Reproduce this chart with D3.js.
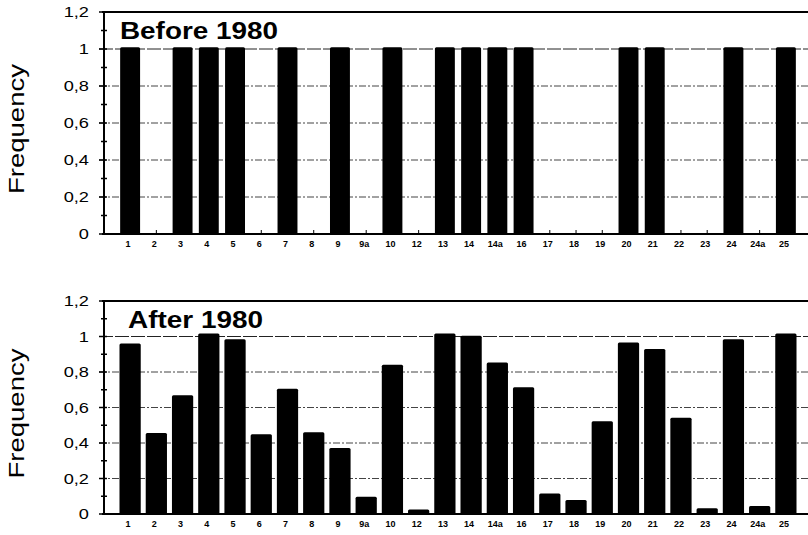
<!DOCTYPE html>
<html>
<head>
<meta charset="utf-8">
<script src="https://cdn.jsdelivr.net/npm/d3@7"></script>
<style>
  body { margin: 0; background: #fff; }
  svg { display: block; font-family: "Liberation Sans", Arial, sans-serif; }
</style>
</head>
<body>
<svg id="chart" width="808" height="535"></svg>
<script>
var categories = ["1","2","3","4","5","6","7","8","9","9a","10","12","13","14","14a","16","17","18","19","20","21","22","23","24","24a","25"];
var before1980 = [1.01,0,1.01,1.01,1.01,0,1.01,0,1.01,0,1.01,0,1.01,1.01,1.01,1.01,0,0,0,1.01,1.01,0,0,1.01,0,1.01];
var after1980 = [0.96,0.456,0.669,1.017,0.985,0.449,0.705,0.46,0.372,0.097,0.841,0.026,1.017,1.004,0.854,0.714,0.116,0.079,0.523,0.966,0.929,0.542,0.032,0.985,0.045,1.017];
var yTicks = [0, 0.2, 0.4, 0.6, 0.8, 1, 1.2];
var yMinor = [0.1, 0.3, 0.5, 0.7, 0.9, 1.1];

var svg = d3.select("#chart");
var x0 = 104;

var panels = [
    {title: "Before 1980", values: before1980, top: 12, bottom: 234, titleX: 120, titleY: 39, titleLen: 158, pad: 0.24},
    {title: "After 1980", values: after1980, top: 301, bottom: 514, titleX: 128, titleY: 328, titleLen: 135, pad: 0.19}
];

// category slots, bar centred in each slot
var x = d3.scaleBand().domain(categories).range([117, 799]);

var fmt = function(d){ return String(d).replace(".", ","); };

panels.forEach(function(p){
    x.paddingInner(p.pad).paddingOuter(p.pad / 2);
    var y = d3.scaleLinear().domain([0, 1.2]).range([p.bottom, p.top]);
    var g = svg.append("g");

    // gridlines
    g.selectAll(".grid").data(yTicks.filter(function(d){ return d > 0 && d < 1.2; }))
        .enter().append("line")
        .attr("x1", x0 - 5).attr("x2", 808)
        .attr("y1", function(d){ return y(d); }).attr("y2", function(d){ return y(d); })
        .attr("stroke", function(d){ return d == 1 ? "#222" : "#444"; })
        .attr("stroke-width", 1)
        .attr("stroke-dasharray", function(d){ return d == 1 ? "14,2" : "7,2,2,2"; });

    // bars
    g.selectAll(".bar").data(p.values)
        .enter().append("rect")
        .attr("x", function(d, i){ return x(categories[i]); })
        .attr("width", x.bandwidth())
        .attr("y", function(d){ return y(d); })
        .attr("height", function(d){ return p.bottom - y(d); })
        .attr("rx", 1.5)
        .attr("fill", "#000");

    // x ticks (inside)
    g.selectAll(".xt").data(categories)
        .enter().append("line")
        .attr("x1", function(d){ return x(d) + x.bandwidth()/2; })
        .attr("x2", function(d){ return x(d) + x.bandwidth()/2; })
        .attr("y1", p.bottom).attr("y2", p.bottom - 4)
        .attr("stroke", "#000").attr("stroke-width", 1);

    // x labels
    g.selectAll(".xl").data(categories)
        .enter().append("text")
        .attr("x", function(d){ return x(d) + x.bandwidth()/2 - 2; })
        .attr("y", p.bottom + 13)
        .attr("text-anchor", "middle")
        .style("font-size", "9px")
        .style("font-weight", "bold")
        .text(function(d){ return d; });

    // top frame and axes
    g.append("line").attr("x1", x0 - 2).attr("x2", 808)
        .attr("y1", p.top).attr("y2", p.top)
        .attr("stroke", "#000").attr("stroke-width", 2);
    g.append("line").attr("x1", x0 - 2).attr("x2", 808)
        .attr("y1", p.bottom).attr("y2", p.bottom)
        .attr("stroke", "#000").attr("stroke-width", 2);
    g.append("line").attr("x1", x0).attr("x2", x0)
        .attr("y1", p.top).attr("y2", p.bottom)
        .attr("stroke", "#000").attr("stroke-width", 2);

    // y ticks
    g.selectAll(".ymaj").data(yTicks)
        .enter().append("line")
        .attr("x1", x0 - 5).attr("x2", x0 + 3)
        .attr("y1", function(d){ return y(d); }).attr("y2", function(d){ return y(d); })
        .attr("stroke", "#000").attr("stroke-width", 1.5);
    g.selectAll(".ymin").data(yMinor)
        .enter().append("line")
        .attr("x1", x0 - 3).attr("x2", x0 + 3)
        .attr("y1", function(d){ return y(d); }).attr("y2", function(d){ return y(d); })
        .attr("stroke", "#000").attr("stroke-width", 1.5);

    // y labels
    g.selectAll(".yl").data(yTicks)
        .enter().append("text")
        .attr("x", 89)
        .attr("y", function(d){ return y(d) + 5; })
        .attr("text-anchor", "end")
        .style("font-size", "14px")
        .text(fmt)
        .each(function(){
            var w = this.getComputedTextLength();
            d3.select(this).attr("textLength", w * 1.3).attr("lengthAdjust", "spacingAndGlyphs");
        });

    // y title
    g.append("text")
        .attr("transform", "translate(24," + ((p.top + p.bottom)/2 + 6) + ") rotate(-90)")
        .attr("text-anchor", "middle")
        .attr("textLength", 130)
        .attr("lengthAdjust", "spacingAndGlyphs")
        .style("font-size", "22px")
        .text("Frequency");

    // panel title
    g.append("text")
        .attr("x", p.titleX).attr("y", p.titleY)
        .attr("textLength", p.titleLen)
        .attr("lengthAdjust", "spacingAndGlyphs")
        .style("font-size", "24px")
        .style("font-weight", "bold")
        .text(p.title);
});
</script>
</body>
</html>
